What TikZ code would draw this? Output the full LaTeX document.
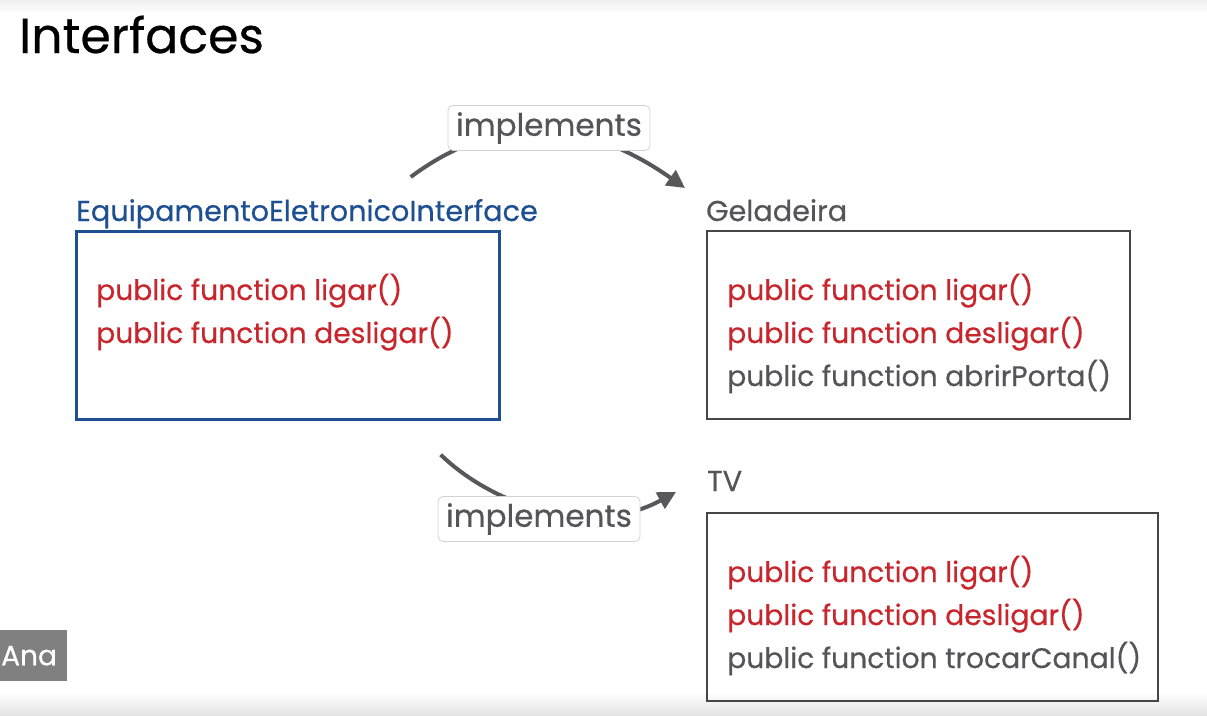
\documentclass[tikz,border=0pt]{standalone}
\usepackage{fontspec}
\setmainfont{Poppins}[FakeBold=0.5]
\usetikzlibrary{arrows.meta,positioning}

\definecolor{methodred}{RGB}{200,38,44}
\definecolor{ifaceblue}{RGB}{30,80,145}
\definecolor{textgray}{RGB}{85,85,88}
\definecolor{boxgray}{RGB}{70,70,72}
\definecolor{arrowgray}{RGB}{88,88,90}
\definecolor{badgegray}{RGB}{128,128,128}

\begin{document}
\begin{tikzpicture}[x=1pt, y=-1pt,
        classbox/.style={draw=boxgray, line width=2.4pt, minimum height=188pt, inner sep=0pt, anchor=north west},
        classname/.style={anchor=base west, inner sep=0pt, font=\fontsize{28.7}{32}\selectfont, text=textgray},
        method/.style={anchor=base west, inner sep=0pt, font=\fontsize{28.2}{32}\selectfont, text=textgray},
        tag/.style={draw=gray!35, fill=white, rounded corners=5pt, line width=0.8pt, inner sep=0pt,
                    minimum width=202pt, minimum height=45pt, font=\fontsize{31}{34}\selectfont, text=textgray},
        arrow/.style={-{Triangle[length=18pt,width=18pt]}, line width=4pt, draw=arrowgray}
    ]
        \useasboundingbox (0,0) rectangle (1207,715);
        \shade[top color=gray!12, bottom color=white] (0,0) rectangle (1207,14);
        \shade[top color=white, bottom color=gray!22] (0,692) rectangle (1207,715);

        \node[anchor=base west, inner sep=0pt, font=\fontsize{49}{52}\selectfont, text=black] (title) at (19,53) {Interfaces};

        % interface
        \node[classbox, draw=ifaceblue, line width=2.7pt, minimum width=423pt] (iface) at (75,230) {};
        \node[classname, text=ifaceblue] (ifacename) at ([xshift=1pt,yshift=9pt]iface.north west) {EquipamentoEletronicoInterface};
        \node[method, text=methodred] (ifaceligar) at ([xshift=21pt,yshift=-70pt]iface.north west) {public function ligar()};
        \node[method, text=methodred] (ifacedesligar) at ([yshift=-43pt]ifaceligar.base west) {public function desligar()};

        % geladeira
        \node[classbox, minimum width=423pt] (gel) at (706,230) {};
        \node[classname] (gelname) at ([xshift=0pt,yshift=9pt]gel.north west) {Geladeira};
        \node[method, text=methodred] (gelligar) at ([xshift=21pt,yshift=-70pt]gel.north west) {public function ligar()};
        \node[method, text=methodred] (geldesligar) at ([yshift=-43pt]gelligar.base west) {public function desligar()};
        \node[method] (gelporta) at ([yshift=-43pt]geldesligar.base west) {public function abrirPorta()};

        % tv
        \node[classbox, minimum width=451pt] (tv) at (706,512) {};
        \node[classname] (tvname) at ([xshift=1pt,yshift=21pt]tv.north west) {TV};
        \node[method, text=methodred] (tvligar) at ([xshift=21pt,yshift=-70pt]tv.north west) {public function ligar()};
        \node[method, text=methodred] (tvdesligar) at ([yshift=-43pt]tvligar.base west) {public function desligar()};
        \node[method] (tvcanal) at ([yshift=-43pt]tvdesligar.base west) {public function trocarCanal()};

        % implements
        \coordinate (topfrom) at ([xshift=-90pt,yshift=53pt]iface.north east);
        \coordinate (topto) at ([xshift=-21pt,yshift=42pt]gel.north west);
        \draw[arrow] (topfrom) .. controls (490,118) and (577,112) .. (topto);
        \node[tag] (topimpl) at (549,128) {implements};

        \coordinate (lowfrom) at ([xshift=-60pt,yshift=-34pt]iface.south east);
        \coordinate (lowto) at ([xshift=-30pt,yshift=20pt]tv.north west);
        \draw[arrow] (lowfrom) .. controls (498,510) and (596,536) .. (lowto);
        \node[tag] (lowimpl) at (539,519) {implements};

        \node[fill=badgegray, anchor=north west, minimum height=51pt, inner xsep=1pt, inner ysep=0pt,
              text width=65pt, font=\fontsize{28}{32}\selectfont, text=white] (ana) at (0,630) {Ana};
    \end{tikzpicture}
\end{document}
